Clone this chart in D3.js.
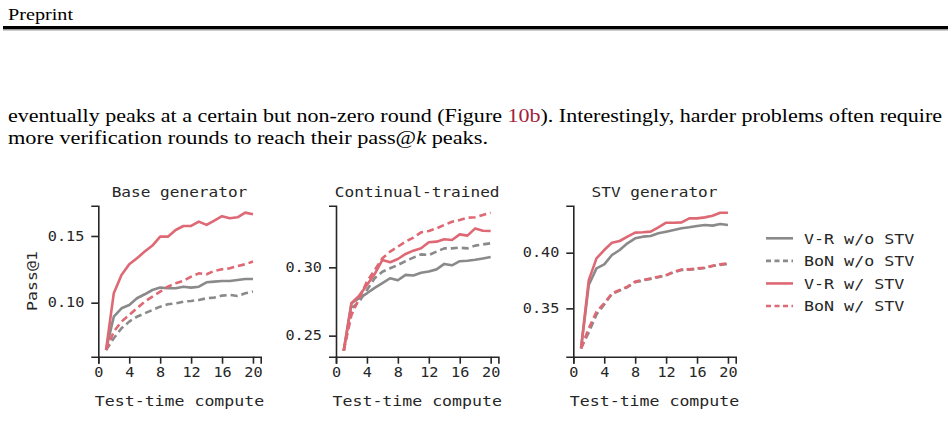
<!DOCTYPE html>
<html>
<head>
<meta charset="utf-8">
<script src="https://cdn.jsdelivr.net/npm/d3@7"></script>
<style>
  body { margin: 0; background: #fff; }
  svg { display: block; }
</style>
</head>
<body>
<svg id="page" width="948" height="441"></svg>
<script>
// test-time compute steps
const steps = [1, 2, 3, 4, 5, 6, 7, 8, 9, 10, 11, 12, 13, 14, 15, 16, 17, 18, 19, 20]
const xTicks = [0, 4, 8, 12, 16, 20]

const panelTitles = ['Base generator', 'Continual-trained', 'STV generator']
const legendLabels = ['V-R w/o STV', 'BoN w/o STV', 'V-R w/ STV', 'BoN w/ STV']

// Base generator
const baseVrWo = [0.0645, 0.0895, 0.0958, 0.0983, 0.1033, 0.1063, 0.1095, 0.1113, 0.1108, 0.1108, 0.112, 0.1113, 0.112, 0.1153, 0.1158, 0.1163, 0.1163, 0.117, 0.1178, 0.1178]
const baseBonWo = [0.0645, 0.0733, 0.0808, 0.0858, 0.0895, 0.092, 0.0945, 0.097, 0.0988, 0.0995, 0.1008, 0.1013, 0.102, 0.1033, 0.1038, 0.1053, 0.1058, 0.105, 0.107, 0.1083]
const baseVrW = [0.0645, 0.107, 0.1208, 0.1288, 0.1333, 0.1383, 0.1428, 0.1495, 0.1495, 0.1545, 0.1575, 0.1575, 0.1608, 0.1583, 0.1615, 0.1648, 0.1633, 0.164, 0.1675, 0.1663]
const baseBonW = [0.0645, 0.0783, 0.0858, 0.0908, 0.0958, 0.1008, 0.1045, 0.1083, 0.112, 0.1145, 0.1163, 0.1195, 0.122, 0.1213, 0.1238, 0.125, 0.1258, 0.1275, 0.1288, 0.1308]
const baseYTicks = [0.10, 0.15]

// Continual-trained
const contVrWo = [0.239, 0.2737, 0.2775, 0.281, 0.285, 0.2885, 0.292, 0.2905, 0.2945, 0.294, 0.296, 0.297, 0.2985, 0.3025, 0.3015, 0.3045, 0.3048, 0.3055, 0.3065, 0.3076]
const contBonWo = [0.239, 0.27, 0.2749, 0.2834, 0.292, 0.2968, 0.2993, 0.3017, 0.3046, 0.3071, 0.3095, 0.309, 0.3115, 0.3139, 0.3139, 0.3144, 0.3139, 0.3159, 0.3168, 0.3176]
const contVrW = [0.239, 0.2737, 0.2793, 0.2871, 0.2951, 0.3054, 0.3037, 0.3061, 0.3098, 0.3122, 0.3139, 0.3183, 0.3188, 0.3205, 0.32, 0.3241, 0.3232, 0.3285, 0.3268, 0.3266]
const contBonW = [0.239, 0.2651, 0.2773, 0.2895, 0.298, 0.3066, 0.3115, 0.3151, 0.3188, 0.3217, 0.3256, 0.3266, 0.3285, 0.331, 0.3334, 0.3346, 0.3363, 0.3366, 0.3383, 0.34]
const contYTicks = [0.25, 0.30]

// STV generator
const stvVrWo = [0.3141, 0.371, 0.3859, 0.3895, 0.3979, 0.4024, 0.4084, 0.4129, 0.4144, 0.415, 0.4174, 0.4189, 0.4204, 0.4219, 0.4228, 0.424, 0.4249, 0.4243, 0.4258, 0.4249]
const stvBonWo = [0.3141, 0.3285, 0.3445, 0.3535, 0.363, 0.366, 0.369, 0.3735, 0.375, 0.3765, 0.378, 0.3795, 0.3825, 0.3845, 0.3848, 0.3855, 0.3862, 0.388, 0.389, 0.39]
const stvVrW = [0.3141, 0.3754, 0.3949, 0.4024, 0.409, 0.4105, 0.4144, 0.418, 0.4183, 0.4189, 0.4228, 0.4269, 0.4269, 0.4272, 0.4308, 0.4308, 0.4317, 0.4332, 0.4359, 0.4359]
const stvBonW = [0.3141, 0.332, 0.347, 0.3545, 0.3635, 0.3665, 0.3695, 0.374, 0.3754, 0.3769, 0.3784, 0.3799, 0.3829, 0.385, 0.385, 0.3859, 0.3865, 0.3883, 0.3895, 0.3904]
const stvYTicks = [0.35, 0.40]

const red = '#de6873', gray = '#8a8a8a', ink = '#262626'
const mono = 'DejaVu Sans Mono'
const serif = 'Liberation Serif'
const sx = 1.15   // figure text is a bit wider than tall

const svg = d3.select('#page')
svg.append('rect').attr('width', 948).attr('height', 441).attr('fill', '#fff')

// ---- page header and paragraph ----
svg.append('text').attr('x', 8).attr('y', 20)
    .attr('font-family', serif).attr('font-size', 17)
    .attr('textLength', 65).attr('lengthAdjust', 'spacingAndGlyphs')
    .text('Preprint')
svg.append('rect').attr('x', 3).attr('y', 26).attr('width', 945).attr('height', 3).attr('fill', '#000')
svg.append('rect').attr('x', 3).attr('y', 29).attr('width', 945).attr('height', 1.5).attr('fill', '#999')

const p1 = svg.append('text').attr('x', 8).attr('y', 122)
    .attr('font-family', serif).attr('font-size', 19.5)
    .attr('textLength', 934).attr('lengthAdjust', 'spacingAndGlyphs')
p1.append('tspan').text('eventually peaks at a certain but non-zero round (Figure ')
p1.append('tspan').attr('fill', '#a3213a').text('10b')
p1.append('tspan').text('). Interestingly, harder problems often require')

const p2 = svg.append('text').attr('x', 8).attr('y', 144)
    .attr('font-family', serif).attr('font-size', 19.5)
    .attr('textLength', 480).attr('lengthAdjust', 'spacingAndGlyphs')
p2.append('tspan').text('more verification rounds to reach their pass@')
p2.append('tspan').attr('font-style', 'italic').text('k')
p2.append('tspan').text(' peaks.')

function monoText(g, x, y, str, size, anchor) {
    return g.append('text')
        .attr('transform', `translate(${x},${y}) scale(${sx},1)`)
        .attr('text-anchor', anchor)
        .attr('font-family', mono).attr('font-size', size)
        .attr('fill', ink)
        .text(str)
}

// ---- panels ----
const plotTop = 205.7, plotBottom = 356.7
const panels = [
    { left: 98.3, dom: [0.0595, 0.1727], ticks: baseYTicks, series: [baseVrWo, baseBonWo, baseVrW, baseBonW] },
    { left: 336, dom: [0.2346, 0.3451], ticks: contYTicks, series: [contVrWo, contBonWo, contVrW, contBonW] },
    { left: 573.3, dom: [0.3066, 0.4422], ticks: stvYTicks, series: [stvVrWo, stvBonWo, stvVrW, stvBonW] }
]
const styles = [
    { color: gray, dash: null },
    { color: gray, dash: '7,4' },
    { color: red, dash: null },
    { color: red, dash: '7,4' }
]

panels.forEach((p, i) => {
    const x = d3.scaleLinear().domain([0, 21]).range([p.left, p.left + 162.4])
    const y = d3.scaleLinear().domain(p.dom).range([plotBottom, plotTop])
    const g = svg.append('g')

    // axes are drawn with d3 and then restyled; tick text gets its own font
    const xAxis = d3.axisBottom(x).tickValues(xTicks).tickSize(7).tickPadding(4).tickFormat(d3.format('d'))
    const gx = g.append('g').attr('transform', `translate(0,${plotBottom})`).call(xAxis)
    const yAxis = d3.axisLeft(y).tickValues(p.ticks).tickSize(7).tickPadding(7).tickFormat(d3.format('.2f'))
    const gy = g.append('g').attr('transform', `translate(${p.left},0)`).call(yAxis)

    ;[gx, gy].forEach(a => {
        a.attr('font-family', mono).attr('font-size', 13.2)
        a.select('.domain').attr('stroke', ink).attr('stroke-width', 1.6)
        a.selectAll('.tick line').attr('stroke', ink).attr('stroke-width', 1.6)
        a.selectAll('.tick text').attr('fill', ink)
    })
    gx.selectAll('.tick text').attr('transform', `scale(${sx},1)`).attr('dy', '0.72em')
    gy.selectAll('.tick text').each(function () {
        const t = d3.select(this)
        const tx = +t.attr('x')
        t.attr('x', null).attr('transform', `translate(${tx},0) scale(${sx},1)`)
    })

    const line = d3.line().x((d, j) => x(steps[j])).y(d => y(d))
    p.series.forEach((s, k) => {
        g.append('path').datum(s)
            .attr('d', line)
            .attr('fill', 'none')
            .attr('stroke', styles[k].color)
            .attr('stroke-width', 2.6)
            .attr('stroke-linejoin', 'round')
            .attr('stroke-dasharray', styles[k].dash)
    })

    const cx = (x.range()[0] + x.range()[1]) / 2
    monoText(g, cx, 197, panelTitles[i], 14, 'middle')
    monoText(g, cx, 405.5, 'Test-time compute', 14.4, 'middle')
})

// y label on first panel
svg.append('text')
    .attr('transform', `translate(37,281) rotate(-90) scale(${sx},1)`)
    .attr('text-anchor', 'middle')
    .attr('font-family', mono).attr('font-size', 14.4)
    .attr('fill', ink)
    .text('Pass@1')

// ---- legend ----
const legendY = d3.scalePoint().domain(legendLabels).range([238.3, 306])
const lg = svg.append('g')
legendLabels.forEach((lab, k) => {
    const yy = legendY(lab)
    lg.append('line')
        .attr('x1', 766).attr('x2', 793).attr('y1', yy).attr('y2', yy)
        .attr('stroke', styles[k].color).attr('stroke-width', 2.6)
        .attr('stroke-dasharray', styles[k].dash ? '5,3.5' : null)
    monoText(lg, 804, yy + 5.2, lab, 14.5, 'start')
})
</script>
</body>
</html>
